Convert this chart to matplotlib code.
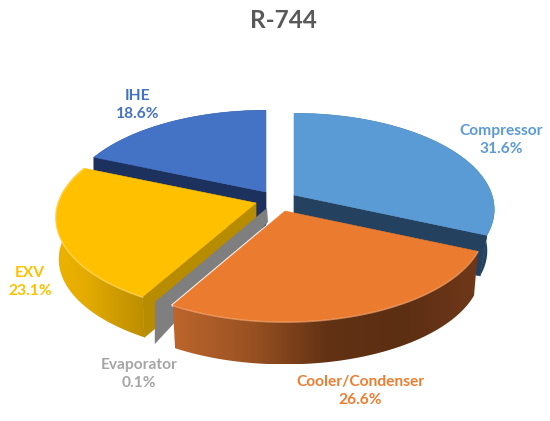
import numpy as np
import matplotlib
matplotlib.use('Agg')
import matplotlib.pyplot as plt
from matplotlib.colors import LinearSegmentedColormap
from matplotlib.patches import Polygon

plt.rcParams['font.family'] = ['Lato', 'DejaVu Sans']

# values (clockwise from 12 o'clock)
categories = ['Compressor', 'Cooler/Condenser', 'Evaporator', 'EXV', 'IHE']
shares = [31.6, 26.6, 0.1, 23.1, 18.6]
title = 'R-744'

top_colors = ['#5B9BD5', '#EA7B2F', '#A5A5A5', '#FFC000', '#4472C4']
wall_colors = ['#24425F', '#6B3514', '#7F7F7F', '#B88C00', '#1C315E']
label_colors = ['#5B9BD5', '#ED7D31', '#A5A5A5', '#FFC000', '#4472C4']
rim_stops = [['#24425F', '#24425F'],
             ['#BC652C', '#9A5222', '#633214', '#5C2E12', '#70381A'],
             ['#7F7F7F', '#7F7F7F'],
             ['#EDB300', '#E5AC00', '#CF9C00', '#BC8E00'],
             ['#1C315E', '#1C315E']]

# layout, pixels
apexes = [(294, 195), (285, 211), (267, 208), (256, 203), (266, 192)]
label_pos = [(501, 140), (360, 391), (139, 374), (30, 282), (138, 105)]
RX, RY, PERSP = 198, 94, 0.15
depths = [42, 45, 42, 42, 42]
shrink = [0.965, 0.98, 1.0, 0.985, 1.0]
# which radial wall faces the viewer: 0 start of slice, 1 end of slice
front_wall = {0: 1, 3: 0, 4: 0}


def top_point(apex, theta):
    # disc point seen in perspective, theta clockwise from the top
    u, v = np.sin(theta), np.cos(theta)
    p = 1 / (1 + PERSP * v)
    return apex[0] + RX * u * p, apex[1] - RY * v * p


def low_point(apex, theta, k, depth):
    x, y = top_point(apex, theta)
    return apex[0] + (x - apex[0]) * k, apex[1] + (y - apex[1]) * k + depth


def fill_gradient(ax, pts, stops, zorder):
    pts = np.array(pts)
    patch = Polygon(pts, closed=True, facecolor='none', edgecolor='none', zorder=zorder)
    ax.add_patch(patch)
    cmap = LinearSegmentedColormap.from_list('rim', stops)
    grad = np.linspace(0, 1, 256).reshape(1, -1)
    im = ax.imshow(grad, cmap=cmap, aspect='auto', zorder=zorder, interpolation='bilinear',
                   extent=(pts[:, 0].min(), pts[:, 0].max(), pts[:, 1].max(), pts[:, 1].min()))
    im.set_clip_path(patch)


fig = plt.figure(figsize=(5.5, 4.21), dpi=100)
ax = fig.add_axes([0, 0, 1, 1])

# the slices in the order they overlap
draw_order = [4, 0, 3, 2, 1]
edges = np.deg2rad(np.concatenate([[0], np.cumsum(shares)]) * 3.6)

for i in draw_order:
    apex = apexes[i]
    k = shrink[i]
    depth = depths[i]
    z = 10 + draw_order.index(i) * 10
    start, stop = edges[i], edges[i + 1]
    angles = np.linspace(start, stop, 120)
    top_arc = [top_point(apex, a) for a in angles]
    low_arc = [low_point(apex, a, k, depth) for a in angles]

    if i == 2:
        # very thin slice, only its side wall shows and it tapers toward the middle
        tip_top = top_point(apex, start)
        tip_low = low_point(apex, start, k, depth)
        ax.add_patch(Polygon([apex, tip_top, tip_low, (apex[0] + 1, apex[1] + 14)], closed=True,
                             facecolor=wall_colors[i], edgecolor='none', zorder=z))
        continue

    # radial side wall, under the rim
    if i in front_wall:
        a = (start, stop)[front_wall[i]]
        low_apex = (apex[0], apex[1] + depth)
        wall = [apex, top_point(apex, a), low_point(apex, a, k, depth), low_apex]
        ax.add_patch(Polygon(wall, closed=True, facecolor=wall_colors[i], edgecolor=wall_colors[i],
                             linewidth=0.5, zorder=z))

    # outer rim
    fill_gradient(ax, top_arc + low_arc[::-1], rim_stops[i], z + 1)

    if i == 1:
        # thin light gap between this slice and the grey one
        ax.plot([apex[0], top_arc[-1][0]], [apex[1], top_arc[-1][1]], color='white', lw=1.8, zorder=z + 2)

    # top face
    ax.add_patch(Polygon([apex] + top_arc, closed=True, facecolor=top_colors[i],
                         edgecolor=top_colors[i], linewidth=0.4, zorder=z + 3))

    # soft bevel highlight on the front edge
    if i in (1, 3):
        xs, ys = zip(*top_arc)
        light = '#F7A66F' if i == 1 else '#FFDB66'
        ax.plot(xs, np.array(ys) + 0.6, color=light, lw=1.0, alpha=0.7, zorder=z + 4)

for name, val, pos, col in zip(categories, shares, label_pos, label_colors):
    ax.text(pos[0], pos[1], f'{name}\n{val:.1f}%', color=col, ha='center', va='center',
            fontsize=11.2, fontweight='bold', linespacing=1.42, zorder=100)

ax.text(283, 21, title, color='#595959', ha='center', va='center', fontsize=17.5, fontweight='bold')

ax.set_xlim(0, 550)
ax.set_ylim(421, 0)
ax.axis('off')

fig.savefig('out.png', dpi=100)
plt.close(fig)
